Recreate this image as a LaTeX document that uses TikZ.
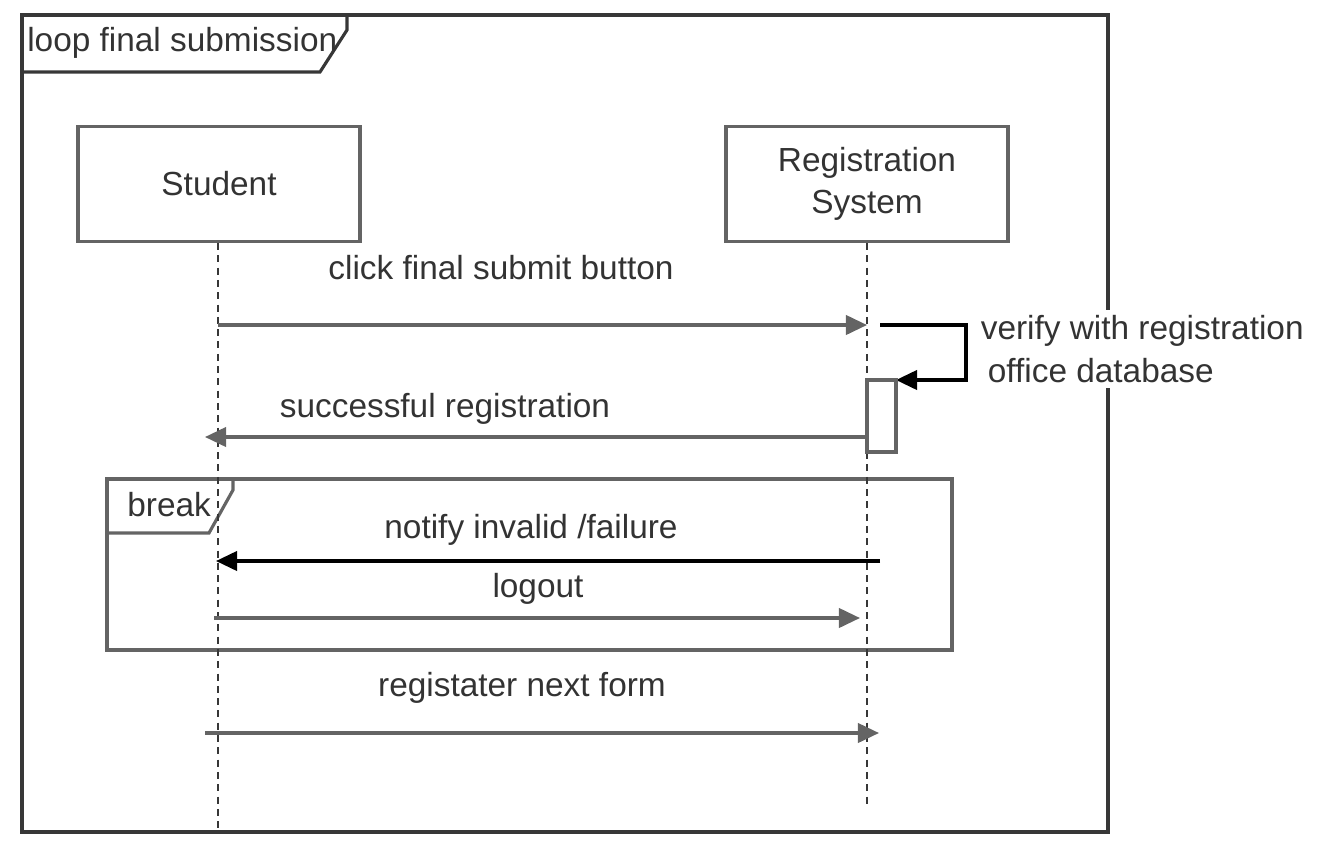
\documentclass[tikz,border=0pt]{standalone}
\usepackage{fontspec}
\setmainfont{Liberation Sans}
\usetikzlibrary{arrows,arrows.meta,calc,positioning}
\definecolor{textgray}{RGB}{51,51,51}
\definecolor{linegray}{RGB}{100,100,100}
\definecolor{framegray}{RGB}{55,55,55}

\begin{document}
\begin{tikzpicture}[x=0.02cm,y=-0.02cm,line width=1.8pt,
    every node/.style={font=\fontsize{19}{24}\selectfont,text=textgray},
    lifebox/.style={draw=linegray,fill=white,minimum width=5.64cm,minimum height=2.3cm,align=center,inner sep=0pt},
    lifeline/.style={draw=framegray,line width=1.1pt,dash pattern=on 4pt off 3pt},
    msg/.style={draw=linegray,-{Triangle[length=12pt,width=11pt]}},
    fragment/.style={draw=framegray},
    label/.style={inner sep=1pt}]
  \useasboundingbox (0,0) rectangle (1330,853);
  % frames
  \draw[fragment] (22,15) rectangle (1108,832);
  \draw[fragment] (22,15) -- (347,15) -- (347,30) -- (320,72) -- (22,72);
  \node[label,anchor=west] (looplbl) at (24,43) {loop final submission};
  \draw[fragment,draw=linegray] (107,479) rectangle (952,650);
  \draw[fragment,draw=linegray] (107,479) -- (233,479) -- (233,490) -- (209,533) -- (107,533);
  \node[label,anchor=west] (breaklbl) at (124,505) {break};
  % participants
  \node[lifebox] (student) at (219,184) {Student};
  \node[lifebox] (regsys) at (867,184) {Registration\\System};
  \coordinate (studentEnd) at (218,832);
  \coordinate (regsysEnd) at (867,805);
  \draw[lifeline] (student.south -| studentEnd) -- (studentEnd);
  \draw[lifeline] (regsys.south) -- (regsysEnd);
  % click final submit
  \coordinate (m1s) at (218,325);
  \coordinate (m1e) at (867,325);
  \draw[msg] (m1s) -- (m1e);
  \node[label] (m1lbl) at (501,268) {click final submit button};
  % self call
  \coordinate (selfa) at (880,325);
  \coordinate (selfb) at (966,325);
  \coordinate (selfc) at (966,380);
  \coordinate (selfd) at (896,380);
  \draw[msg,draw=black] (selfa) -- (selfb) -- (selfc) -- (selfd);
  \node[label,fill=white,inner sep=3pt,align=left,anchor=west] (selflbl) at (974,349) {verify with registration\\\hspace*{4pt}office database};
  \draw[draw=linegray,fill=white] (867,380) rectangle (896,452);
  % successful registration
  \coordinate (m2s) at (867,437);
  \coordinate (m2e) at (205,437);
  \draw[msg] (m2s) -- (m2e);
  \node[label] (m2lbl) at (445,409) {successful registration};
  % break contents
  \coordinate (m3s) at (880,561);
  \coordinate (m3e) at (216,561);
  \draw[msg,draw=black] (m3s) -- (m3e);
  \node[label] (m3lbl) at (531,530) {notify invalid /failure};
  \coordinate (m4s) at (214,618);
  \coordinate (m4e) at (860,618);
  \draw[msg] (m4s) -- (m4e);
  \node[label] (m4lbl) at (538,589) {logout};
  % next form
  \coordinate (m5s) at (205,733);
  \coordinate (m5e) at (879,733);
  \draw[msg] (m5s) -- (m5e);
  \node[label] (m5lbl) at (522,688) {registater next form};
\end{tikzpicture}
\end{document}
